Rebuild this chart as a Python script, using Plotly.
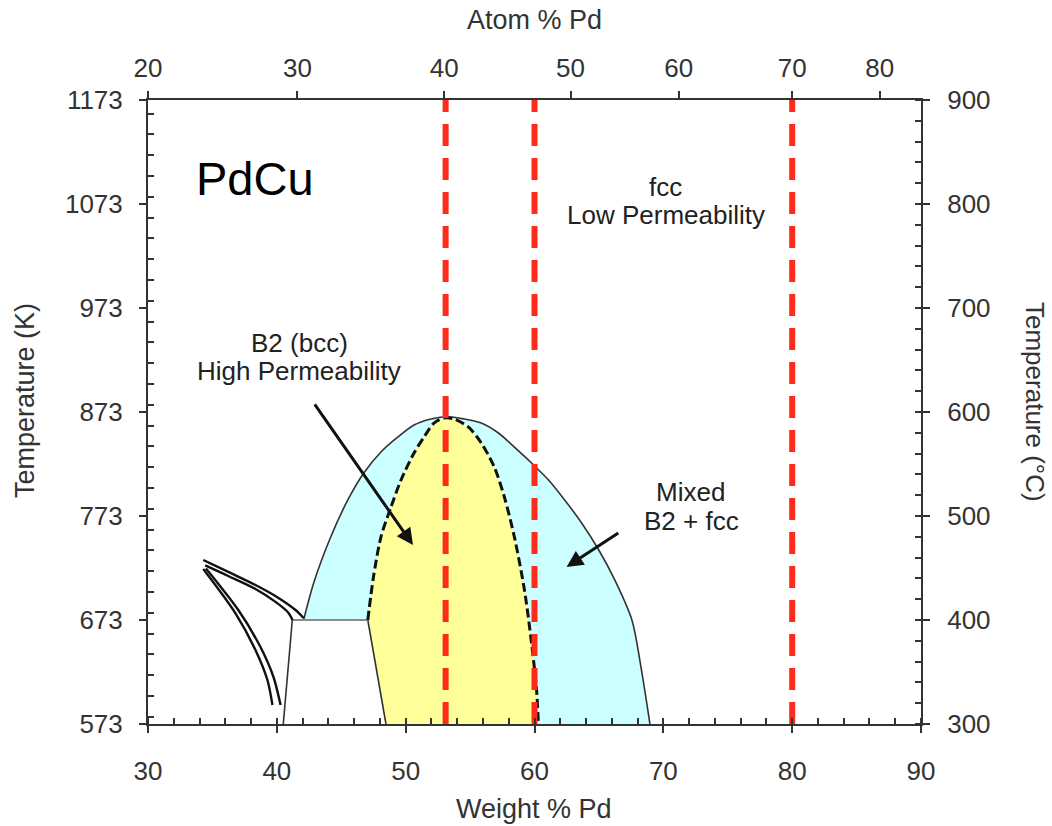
import plotly.graph_objects as go

# ---------------- data (Weight % Pd, Temperature K) ----------------
outer_dome_wt = [42.08, 42.86, 44.18, 45.51, 46.75, 48.08, 49.40, 50.65, 51.97, 53.30,
                 54.55, 55.87, 57.20, 58.44, 59.77, 61.09, 62.34, 63.66, 64.99, 66.23,
                 67.56, 68.30, 68.96]
outer_dome_T = [673, 708.6, 752.8, 788.4, 814.3, 834.5, 849.0, 860.5, 866.3, 868.5,
                866.3, 862.4, 852.8, 839.3, 824.0, 807.6, 788.4, 766.3, 740.3, 711.5,
                673, 625, 573]

b2_dome_wt = [47.06, 47.50, 48.08, 48.86, 49.64, 50.65, 51.43, 52.20, 52.99, 53.77,
              54.86, 55.87, 56.88, 57.66, 58.44, 59.22, 59.77, 60.16, 60.30]
b2_dome_T = [673, 714.3, 752.8, 781.6, 807.6, 833.6, 849.0, 862.4, 867.2, 866.3,
             858.6, 843.2, 820.0, 791.3, 752.8, 701.8, 650.9, 605.7, 573]

b2_lower_wt = [47.06, 48.47]
b2_lower_T = [673, 573]

iso673_wt = [41.20, 47.06]
iso673_T = [673, 673]

left_phase_wt = [41.20, 40.50]
left_phase_T = [673, 573]

curve_a_wt = [34.29, 36.23, 38.34, 40.13, 41.45, 42.08]
curve_a_T = [730.7, 719.2, 706.6, 694.2, 682.6, 674.9]
curve_b_wt = [34.44, 36.23, 38.34, 39.90, 40.91, 41.22]
curve_b_T = [725.5, 715.3, 702.8, 690.4, 679.8, 673.0]
curve_c_wt = [34.29, 36.78, 38.34, 39.27, 39.66]
curve_c_T = [722.1, 679.7, 644.2, 615.3, 591.3]
curve_d_wt = [34.50, 37.01, 38.73, 39.74, 40.29]
curve_d_T = [722.6, 682.6, 647.0, 618.2, 591.3]

red_line_wt = [53.1, 60.0, 80.0]

atom_tick_labels = ["20", "30", "40", "50", "60", "70", "80"]
atom_tick_wt = [30.0, 41.6, 53.0, 62.8, 71.2, 80.0, 86.8]

K_range = [573, 1173]
C_range = [300, 900]
wt_range = [30, 90]

# ---------------- figure ----------------
fig = go.Figure()

fig.add_trace(go.Scatter(x=outer_dome_wt + [48.47, 47.06], y=outer_dome_T + [573, 673],
                         fill="toself", fillcolor="#CCFFFF", mode="lines",
                         line=dict(width=0), hoverinfo="skip", showlegend=False))
fig.add_trace(go.Scatter(x=b2_dome_wt + [48.47], y=b2_dome_T + [573],
                         fill="toself", fillcolor="#FFFF99", mode="lines",
                         line=dict(width=0), hoverinfo="skip", showlegend=False))

dark = "#333333"
def line(xs, ys, color=dark, width=1.6, dash=None, shape="linear"):
    fig.add_trace(go.Scatter(x=xs, y=ys, mode="lines",
                             line=dict(color=color, width=width, dash=dash, shape=shape,
                                       smoothing=0.8 if shape == "spline" else None),
                             hoverinfo="skip", showlegend=False))

line(outer_dome_wt, outer_dome_T, shape="spline")
line(b2_lower_wt, b2_lower_T)
line(iso673_wt, iso673_T, color="#8a8a8a", width=2.2)
line(left_phase_wt, left_phase_T)
for cx, cy in [(curve_a_wt, curve_a_T), (curve_b_wt, curve_b_T),
               (curve_c_wt, curve_c_T), (curve_d_wt, curve_d_T)]:
    line(cx, cy, color="#111111", width=2.4, shape="spline")
line(b2_dome_wt, b2_dome_T, color="#111111", width=3, dash="9px,4px", shape="spline")

for w in red_line_wt:
    line([w, w], K_range, color="#FF2A1A", width=6, dash="22px,12px")

# helper traces so the secondary axes are drawn
fig.add_trace(go.Scatter(x=wt_range, y=K_range, xaxis="x2", yaxis="y", mode="markers",
                         marker=dict(opacity=0), hoverinfo="skip", showlegend=False))
fig.add_trace(go.Scatter(x=wt_range, y=C_range, xaxis="x", yaxis="y2", mode="markers",
                         marker=dict(opacity=0), hoverinfo="skip", showlegend=False))

font_family = "Liberation Sans, Arial, sans-serif"
tick_font = dict(family=font_family, size=26, color="#333333")
axis_common = dict(showline=True, linecolor=dark, linewidth=2, showgrid=False,
                   zeroline=False, ticks="outside", tickcolor=dark, tickwidth=2,
                   ticklen=7, tickfont=tick_font)

fig.update_layout(
    width=1052, height=826,
    margin=dict(l=148, r=131, t=100, b=102),
    paper_bgcolor="white", plot_bgcolor="white",
    showlegend=False,
    xaxis=dict(range=wt_range, tick0=30, dtick=10, ticklabelstandoff=16,
               minor=dict(dtick=2, ticks="inside", ticklen=6, tickcolor=dark, tickwidth=1.5),
               **axis_common),
    xaxis2=dict(range=wt_range, overlaying="x", side="top", anchor="y",
                tickvals=atom_tick_wt, ticktext=atom_tick_labels, ticklabelstandoff=4,
                **axis_common),
    yaxis=dict(range=K_range, tick0=573, dtick=100, ticklabelstandoff=11,
               minor=dict(dtick=20, ticks="inside", ticklen=6, tickcolor=dark, tickwidth=1.5),
               **axis_common),
    yaxis2=dict(range=C_range, overlaying="y", side="right", anchor="x",
                tick0=300, dtick=100, ticklabelstandoff=12,
                minor=dict(dtick=20, ticks="inside", ticklen=6, tickcolor=dark, tickwidth=1.5),
                **axis_common),
)

def px_to_paper(px, py):
    return (px - 148) / 773.0, (724 - py) / 624.0

for text, (px, py), angle, size in [("Atom % Pd", (534, 20), 0, 27),
                                    ("Weight % Pd", (534, 809), 0, 27),
                                    ("Temperature (K)", (25, 400), -90, 27),
                                    ("Temperature (°C)", (1035, 402), 90, 26)]:
    xp, yp = px_to_paper(px, py)
    fig.add_annotation(x=xp, y=yp, xref="paper", yref="paper", text=text,
                       showarrow=False, textangle=angle,
                       font=dict(family=font_family, size=size, color="#333333"),
                       xanchor="center", yanchor="middle")

label_font = dict(family=font_family, size=26, color="#222222")
for text, (wx, ty) in [("fcc", (70.13, 1089.3)),
                       ("Low Permeability", (70.21, 1062.4)),
                       ("B2 (bcc)", (41.77, 939.3)),
                       ("High Permeability", (41.69, 912.4)),
                       ("Mixed", (72.08, 796.0)),
                       ("B2 + fcc", (72.16, 768.2))]:
    fig.add_annotation(x=wx, y=ty, xref="x", yref="y", text=text, showarrow=False,
                       font=label_font, xanchor="center", yanchor="middle")

fig.add_annotation(x=38.34, y=1098, xref="x", yref="y", text="PdCu", showarrow=False,
                   font=dict(family=font_family, size=47, color="black"),
                   xanchor="center", yanchor="middle")

# arrows (head, tail)
for (hx, hy), (tx, ty) in [((50.57, 745.0), (42.86, 881.7)),
                           ((62.49, 724.0), (66.62, 757.6))]:
    fig.add_annotation(x=hx, y=hy, ax=tx, ay=ty, xref="x", yref="y", axref="x", ayref="y",
                       text="", showarrow=True, arrowhead=2, arrowsize=1.1,
                       arrowwidth=3, arrowcolor="#111111")

fig.write_html("out.html")
